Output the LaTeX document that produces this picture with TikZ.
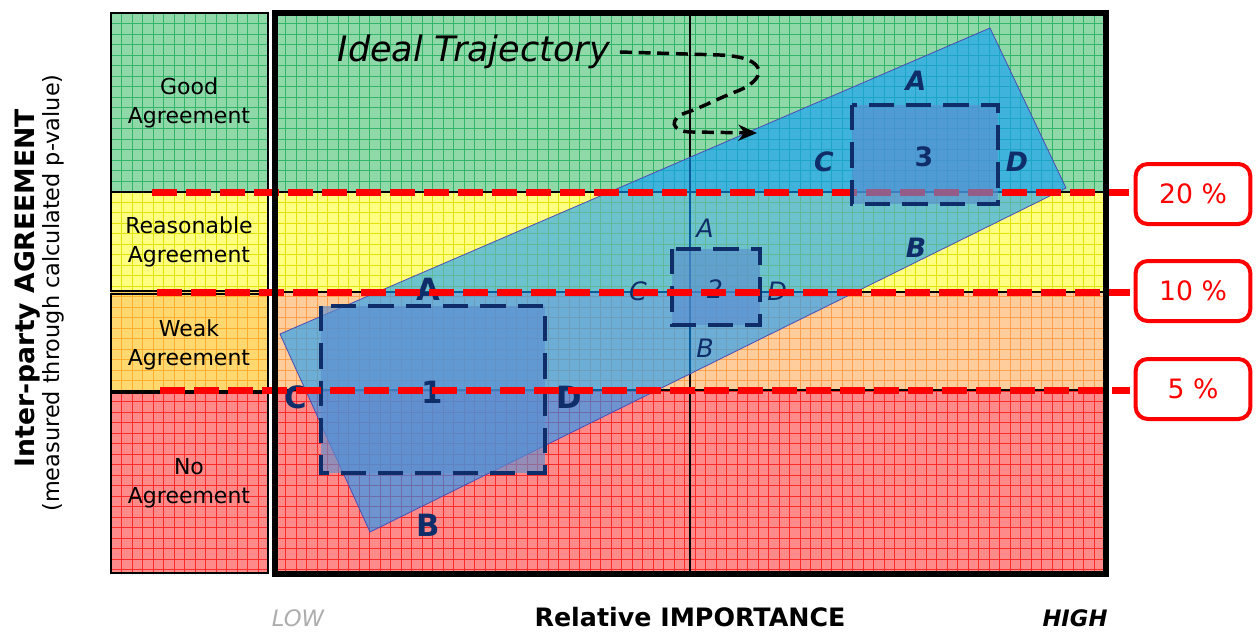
\documentclass[tikz,border=0pt]{standalone}
\usepackage{fontspec}
\setmainfont{DejaVu Sans}
\usetikzlibrary{arrows.meta}
\definecolor{gfill}{HTML}{8FD9A8}\definecolor{gline}{HTML}{35B56C}
\definecolor{yfill}{HTML}{FFFF82}\definecolor{yline}{HTML}{E2E200}
\definecolor{wfill}{HTML}{FFD870}\definecolor{wline}{HTML}{FFAE30}
\definecolor{ofill}{HTML}{FFCC9C}\definecolor{oline}{HTML}{FFA050}
\definecolor{rfill}{HTML}{FF8A8A}\definecolor{rline}{HTML}{FF2A2A}
\definecolor{navy}{HTML}{0F2D69}
\definecolor{bandc}{HTML}{0C9BFF}
\definecolor{boxc}{HTML}{5B8FD0}
\newcommand\gridreg[6]{%
  \fill[#5] (#1,#2) rectangle (#3,#4);
  \begin{scope}
    \clip (#1,#2) rectangle (#3,#4);
    \foreach \i in {0,...,80} \draw[#6,line width=0.6pt] ({#1+\i*10.5},#2) -- ({#1+\i*10.5},#4);
    \foreach \i in {0,...,56} \draw[#6,line width=0.6pt] (#1,{13+\i*10.5}) -- (#3,{13+\i*10.5});
  \end{scope}}
\begin{document}
\begin{tikzpicture}[x=0.75pt,y=-0.75pt,
  lbox/.style={draw=black,line width=2.2pt},
  reddash/.style={draw=red,line width=5.25pt,dash pattern=on 18.75pt off 6.75pt},
  dbox/.style={draw=navy,line width=3pt,dash pattern=on 19pt off 9pt,fill=boxc,fill opacity=0.65},
  bigl/.style={text=navy,font=\fontsize{23}{23}\selectfont\bfseries},
  midl/.style={text=navy,font=\fontsize{20}{20}\selectfont\bfseries\itshape},
  smll/.style={text=navy,font=\fontsize{19}{19}\selectfont\itshape},
  coltext/.style={align=center,font=\fontsize{16.5}{22}\selectfont},
  pct/.style={draw=red,line width=3pt,rounded corners=9pt,text=red,minimum width=86pt,minimum height=45pt,font=\fontsize{20}{20}\selectfont}]
\useasboundingbox (0,0) rectangle (1258,632);
% left column
\gridreg{111}{13}{268}{192}{gfill}{gline}
\gridreg{111}{192}{268}{292}{yfill}{yline}
\gridreg{111}{292}{268}{391}{wfill}{wline}
\gridreg{111}{391}{268}{573}{rfill}{rline}
\draw[lbox] (111,13) rectangle (268,192);
\draw[lbox] (111,192) rectangle (268,291);
\draw[lbox] (111,294) rectangle (268,391);
\draw[lbox] (111,393) rectangle (268,573);
\node[coltext] (good) at (189,103) {Good\\Agreement};
\node[coltext] (reas) at (189,242) {Reasonable\\Agreement};
\node[coltext] (weak) at (189,345) {Weak\\Agreement};
\node[coltext] (noag) at (189,483) {No\\Agreement};
% main area
\gridreg{275}{13}{1106}{192}{gfill}{gline}
\gridreg{275}{192}{1106}{292}{yfill}{yline}
\gridreg{275}{292}{1106}{390}{ofill}{oline}
\gridreg{275}{390}{1106}{574}{rfill}{rline}
\draw[line width=1.5pt] (275,192) -- (1106,192) (275,292) -- (1106,292) (275,390) -- (1106,390);
\draw[line width=1.5pt] (690,13) -- (690,574);
% band
\fill[bandc,fill opacity=0.6] (280,334) -- (990,28) -- (1066,188) -- (370,532) -- cycle;
\draw[color=blue!40!gray,line width=0.6pt] (280,334) -- (990,28) -- (1066,188) -- (370,532) -- cycle;
% box 1
\draw[dbox] (321,306) rectangle (545,473);
\node[bigl] (n1) at (432,392) {1};
\node[bigl] (a1) at (428,289) {A};
\node[bigl] (b1) at (428,525) {B};
\node[bigl] (c1) at (296,397) {C};
\node[bigl] (d1) at (569,397) {D};
% box 2
\draw[dbox] (672,249) rectangle (760,325);
\node[smll] (n2) at (715,289) {2};
\node[smll] (a2) at (705,228) {A};
\node[smll] (b2) at (705,348) {B};
\node[smll] (c2) at (638,291) {C};
\node[smll] (d2) at (777,291) {D};
% red dashed lines
\coordinate (r1a) at (152,192); \coordinate (r1b) at (1130,192);
\coordinate (r2a) at (157,292); \coordinate (r2b) at (1130,292);
\coordinate (r3a) at (160,390); \coordinate (r3b) at (1130,390);
\draw[reddash] (r1a) -- (r1b);
\draw[reddash] (r2a) -- (r2b);
\draw[reddash] (r3a) -- (r3b);
% box 3
\draw[dbox] (852,105) rectangle (998,204);
\node[midl,font=\fontsize{20}{20}\selectfont\bfseries] (n3) at (924,157) {3};
\node[midl] (a3) at (916,81) {A};
\node[midl] (b3) at (916,248) {B};
\node[midl] (c3) at (824,162) {C};
\node[midl] (d3) at (1017,162) {D};
% frame
\draw[line width=4pt] (275,13) rectangle (1106,574);
% percentages
\node[pct] (p20) at (1193,194) {20 \%};
\node[pct] (p10) at (1193,291) {10 \%};
\node[pct] (p5) at (1193,389) {5 \%};
% ideal trajectory
\node[font=\fontsize{26.3}{26.3}\selectfont\itshape,anchor=west] (ideal) at (333,52) {Ideal Trajectory};
\coordinate (trend) at (757,133);
\draw[line width=2.6pt,dash pattern=on 9pt off 5pt,-{Stealth[length=14pt,width=12pt]}]
  (ideal.east) ++(4pt,0) -- (720,55) .. controls (770,57) and (768,80) .. (735,92)
  .. controls (715,100) and (700,108) .. (688,112)
  .. controls (668,118) and (670,132) .. (692,132) -- (trend);
% axis labels
\node[rotate=90,font=\fontsize{20}{20}\selectfont\bfseries] (yl1) at (27,288) {Inter-party AGREEMENT};
\node[rotate=90,font=\fontsize{16.8}{16.8}\selectfont] (yl2) at (53,293) {(measured through calculated p-value)};
\node[text=black!32,font=\fontsize{17}{17}\selectfont\itshape] (low) at (298,618) {LOW};
\node[font=\fontsize{19}{19}\selectfont\bfseries] (rel) at (690,617) {Relative IMPORTANCE};
\node[font=\fontsize{17}{17}\selectfont\bfseries\itshape] (high) at (1075,618) {HIGH};
\end{tikzpicture}
\end{document}
